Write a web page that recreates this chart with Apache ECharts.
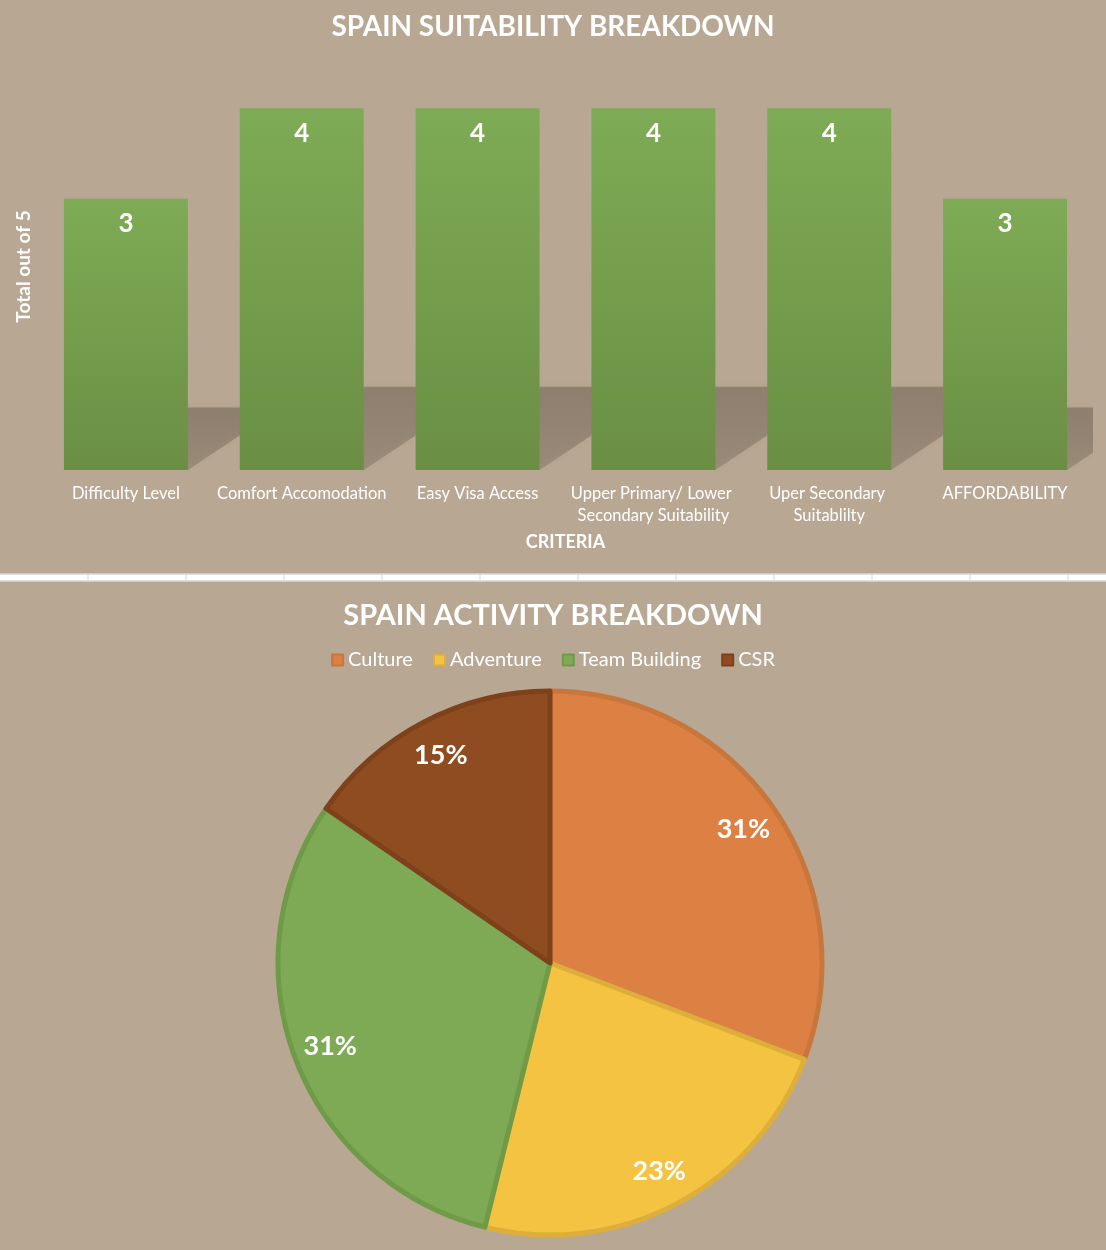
<!DOCTYPE html>
<html>
<head>
<meta charset="utf-8">
<script src="https://cdn.jsdelivr.net/npm/echarts@6/dist/echarts.min.js"></script>
<style>
  html, body { margin: 0; padding: 0; background: #B8A793; }
  #main { width: 1106px; height: 1250px; }
</style>
</head>
<body>
<div id="main"></div>
<script>
// criteria scores (out of 5)
const criteria = ['Difficulty Level', 'Comfort Accomodation', 'Easy Visa Access',
  'Upper Primary/ Lower Secondary Suitability', 'Uper Secondary Suitablilty', 'AFFORDABILITY'];
const scores = [3, 4, 4, 4, 4, 3];

// activity split
const activities = ['Culture', 'Adventure', 'Team Building', 'CSR'];
const activityCounts = [4, 3, 4, 2];
const activityColors = ['#DC8143', '#F4C342', '#7EA955', '#8E4C20'];
const activityBorders = ['#C9763C', '#DDAF3A', '#6F9B48', '#7D411B'];

const FONT = 'Lato, "Open Sans", sans-serif';
const BAR_W = 0.705;

const myChart = echarts.init(document.getElementById('main'));

// divider between the two charts (spreadsheet gap)
const divider = [{
  type: 'rect', shape: { x: -2, y: 574, width: 1110, height: 7 },
  style: { fill: '#FFFFFF', stroke: '#D6D6D6', lineWidth: 1.5 }, silent: true
}];
for (let x = 88; x < 1106; x += 98) {
  divider.push({
    type: 'line', shape: { x1: x, y1: 575, x2: x, y2: 580 },
    style: { stroke: '#D6D6D6', lineWidth: 1 }, silent: true
  });
}

myChart.setOption({
  backgroundColor: '#B8A793',
  textStyle: { fontFamily: FONT },
  title: [{
    text: 'SPAIN SUITABILITY BREAKDOWN',
    left: 'center', top: 8,
    textStyle: { color: '#fff', fontSize: 28, fontWeight: 'bold', fontFamily: FONT }
  }, {
    text: 'SPAIN ACTIVITY BREAKDOWN',
    left: 'center', top: 596,
    textStyle: { color: '#fff', fontSize: 29, fontWeight: 'bold', fontFamily: FONT }
  }],
  legend: {
    data: activities,
    top: 645, left: 'center',
    itemWidth: 11, itemHeight: 11, itemGap: 20,
    icon: 'rect',
    textStyle: { color: '#fff', fontSize: 20, fontFamily: FONT, padding: [0, 0, 0, 0] }
  },
  grid: { left: 38, right: 13, top: 63, height: 407 },
  xAxis: {
    type: 'category',
    data: criteria,
    name: 'CRITERIA',
    nameLocation: 'middle',
    nameGap: 63,
    nameTextStyle: { color: '#fff', fontSize: 18, fontWeight: 'bold' },
    axisLine: { show: false },
    axisTick: { show: false },
    axisLabel: {
      color: '#fff', fontSize: 16.5, margin: 13, lineHeight: 22,
      width: 176, overflow: 'break', interval: 0
    }
  },
  yAxis: {
    type: 'value', min: 0, max: 4.5,
    name: 'Total out of 5',
    nameLocation: 'middle',
    nameGap: 5,
    nameTextStyle: { color: '#fff', fontSize: 19, fontWeight: 'bold' },
    axisLine: { show: false },
    axisTick: { show: false },
    axisLabel: { show: false },
    splitLine: { show: false }
  },
  graphic: divider,
  series: [{
    // perspective shadow cast behind each bar
    type: 'custom',
    clip: true,
    silent: true,
    z: 1,
    data: scores.map((v, i) => [i, v]),
    renderItem: function (params, api) {
      const i = api.value(0);
      const v = api.value(1);
      const base = api.coord([i, 0]);
      const top = api.coord([i, v * 0.23]);
      const w = api.size([1, 0])[0] * BAR_W;
      const h = base[1] - top[1];
      const dx = h * 1.5;
      const x0 = base[0] - w / 2, x1 = base[0] + w / 2;
      return {
        type: 'polygon',
        shape: { points: [[x0, base[1]], [x1, base[1]], [x1 + dx, top[1]], [x0 + dx, top[1]]] },
        style: {
          fill: new echarts.graphic.LinearGradient(0, 0, 0, 1, [
            { offset: 0, color: 'rgba(40,30,20,0.26)' },
            { offset: 1, color: 'rgba(40,30,20,0.18)' }
          ]),
          shadowBlur: 6, shadowColor: 'rgba(40,30,20,0.2)'
        }
      };
    }
  }, {
    type: 'bar',
    data: scores,
    z: 3,
    barWidth: (BAR_W * 100) + '%',
    itemStyle: {
      color: new echarts.graphic.LinearGradient(0, 0, 0, 1, [
        { offset: 0, color: '#7EAB55' },
        { offset: 1, color: '#6A8F43' }
      ])
    },
    label: {
      show: true, position: 'insideTop', distance: 12,
      color: '#fff', fontSize: 26, fontWeight: 'bold'
    }
  }, {
    name: 'Activity',
    type: 'pie',
    center: [550, 963],
    radius: 272,
    startAngle: 90,
    data: activities.map((n, i) => ({
      name: n, value: activityCounts[i],
      itemStyle: { color: activityColors[i], borderColor: activityBorders[i], borderWidth: 5 }
    })),
    label: { show: false },
    labelLine: { show: false }
  }, {
    // label ring, same data, transparent
    type: 'pie',
    center: [550, 963],
    radius: [192, 272],
    startAngle: 90,
    silent: true,
    legendHoverLink: false,
    data: activities.map((n, i) => ({
      name: n + ' ', value: activityCounts[i],
      itemStyle: { color: 'rgba(0,0,0,0)' }
    })),
    label: {
      show: true, position: 'inside',
      formatter: p => Math.round(p.percent) + '%',
      color: '#fff', fontSize: 27, fontWeight: 'bold'
    },
    labelLine: { show: false }
  }]
});
</script>
</body>
</html>
